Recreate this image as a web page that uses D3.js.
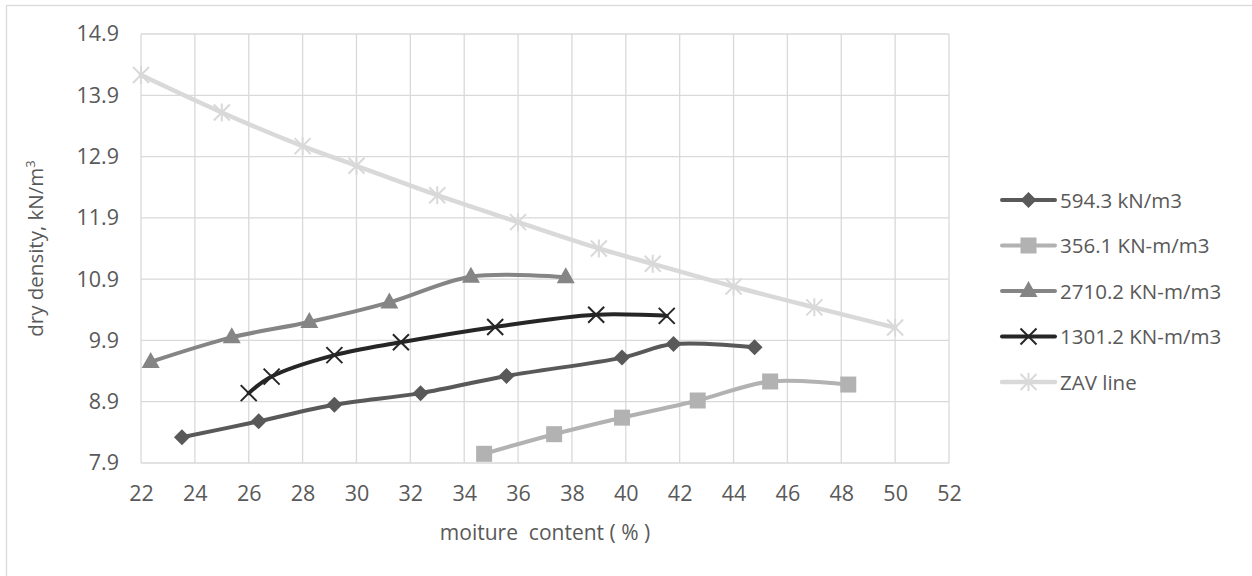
<!DOCTYPE html>
<html>
<head>
<meta charset="utf-8">
<script src="https://cdn.jsdelivr.net/npm/d3@7"></script>
<style>
  html, body { margin: 0; padding: 0; background: #fff; }
  svg { display: block; }
  text { font-family: "Open Sans", "Noto Sans", sans-serif; fill: #595959; }
</style>
</head>
<body>
<svg id="chart" width="1252" height="576"></svg>
<script>
// Moisture content (%) and dry density (kN/m3) for each compaction energy
const s594x  = [23.52, 26.37, 29.18, 32.38, 35.57, 39.86, 41.77, 44.78];
const s594y  = [8.32, 8.58, 8.85, 9.04, 9.32, 9.62, 9.84, 9.79];
const s356x  = [34.74, 37.34, 39.86, 42.67, 45.36, 48.26];
const s356y  = [8.05, 8.37, 8.64, 8.92, 9.23, 9.18];
const s2710x = [22.36, 25.37, 28.25, 31.22, 34.25, 37.77];
const s2710y = [9.55, 9.95, 10.20, 10.52, 10.94, 10.93];
const s1301x = [26.0, 26.85, 29.18, 31.65, 35.15, 38.9, 41.52];
const s1301y = [9.04, 9.31, 9.66, 9.87, 10.12, 10.32, 10.30];
const zavX   = [22, 25, 28, 30, 33, 36, 39, 41, 44, 47, 50];
const zavY   = [14.23, 13.62, 13.07, 12.75, 12.27, 11.83, 11.40, 11.15, 10.78, 10.44, 10.11];

const xTicks = [22, 24, 26, 28, 30, 32, 34, 36, 38, 40, 42, 44, 46, 48, 50, 52];
const yTicks = [7.9, 8.9, 9.9, 10.9, 11.9, 12.9, 13.9, 14.9];

const seriesNames = ["594.3 kN/m3", "356.1 KN-m/m3", "2710.2 KN-m/m3", "1301.2 KN-m/m3", "ZAV line"];

const series = [
  { name: seriesNames[0], xs: s594x,  ys: s594y,  color: "#595959", width: 4,   marker: "diamond" },
  { name: seriesNames[1], xs: s356x,  ys: s356y,  color: "#b2b2b2", width: 4,   marker: "square" },
  { name: seriesNames[2], xs: s2710x, ys: s2710y, color: "#858585", width: 4,   marker: "triangle" },
  { name: seriesNames[3], xs: s1301x, ys: s1301y, color: "#262626", width: 4,   marker: "cross" },
  { name: seriesNames[4], xs: zavX,   ys: zavY,   color: "#d9d9d9", width: 4.5, marker: "star" }
];

const svg = d3.select("#chart");

// outer chart frame
svg.append("rect")
  .attr("x", 6.5).attr("y", 5.5)
  .attr("width", 1300).attr("height", 700)
  .attr("fill", "none").attr("stroke", "#d9d9d9").attr("stroke-width", 1.3);

const plot = { left: 141, right: 949, top: 34, bottom: 463 };

const x = d3.scaleLinear().domain([22, 52]).range([plot.left, plot.right]);
const y = d3.scaleLinear().domain([7.9, 14.9]).range([plot.bottom, plot.top]);

// gridlines
const grid = svg.append("g");
grid.selectAll("line.v").data(xTicks).join("line")
  .attr("x1", d => x(d)).attr("x2", d => x(d))
  .attr("y1", plot.top).attr("y2", plot.bottom)
  .attr("stroke", "#d9d9d9").attr("stroke-width", 1.3);
grid.selectAll("line.h").data(yTicks).join("line")
  .attr("y1", d => y(d)).attr("y2", d => y(d))
  .attr("x1", plot.left).attr("x2", plot.right)
  .attr("stroke", "#d9d9d9").attr("stroke-width", 1.3);

// axes (labels only)
const xAxis = svg.append("g")
  .attr("transform", `translate(0,${plot.bottom})`)
  .call(d3.axisBottom(x).tickValues(xTicks).tickSize(0).tickPadding(23).tickFormat(d3.format("d")));
xAxis.select(".domain").remove();
xAxis.selectAll("text").style("font-size", "21.5px").attr("fill", "#595959");

const yAxis = svg.append("g")
  .attr("transform", `translate(${plot.left},0)`)
  .call(d3.axisLeft(y).tickValues(yTicks).tickSize(0).tickPadding(22).tickFormat(d3.format(".1f")));
yAxis.select(".domain").remove();
yAxis.selectAll("text").style("font-size", "21.5px").attr("fill", "#595959");

// axis titles
svg.append("text")
  .attr("x", 545).attr("y", 540)
  .attr("text-anchor", "middle")
  .style("font-size", "21px")
  .style("white-space", "pre")
  .attr("xml:space", "preserve")
  .text("moiture  content ( % )");

const yTitle = svg.append("text")
  .attr("transform", `translate(43,${(plot.top + plot.bottom) / 2}) rotate(-90)`)
  .attr("text-anchor", "middle")
  .style("font-size", "20.5px");
yTitle.append("tspan").text("dry density, kN/m");
yTitle.append("tspan").attr("dy", -8).style("font-size", "13px").text("3");

// marker shapes
function drawMarker(g, type, cx, cy, color) {
  if (type === "diamond") {
    g.append("path")
      .attr("d", `M${cx},${cy - 8}L${cx + 8},${cy}L${cx},${cy + 8}L${cx - 8},${cy}Z`)
      .attr("fill", color);
  } else if (type === "square") {
    g.append("rect").attr("x", cx - 8).attr("y", cy - 8).attr("width", 16).attr("height", 16)
      .attr("fill", color);
  } else if (type === "triangle") {
    g.append("path")
      .attr("d", `M${cx},${cy - 10}L${cx + 9},${cy + 6}L${cx - 9},${cy + 6}Z`)
      .attr("fill", color);
  } else if (type === "cross") {
    g.append("path")
      .attr("d", `M${cx - 8},${cy - 8}L${cx + 8},${cy + 8}M${cx - 8},${cy + 8}L${cx + 8},${cy - 8}`)
      .attr("stroke", color).attr("stroke-width", 2).attr("fill", "none");
  } else if (type === "star") {
    g.append("path")
      .attr("d", `M${cx - 8},${cy - 8}L${cx + 8},${cy + 8}M${cx - 8},${cy + 8}L${cx + 8},${cy - 8}M${cx},${cy - 9}L${cx},${cy + 9}`)
      .attr("stroke", color).attr("stroke-width", 2).attr("fill", "none");
  }
}

const line = d3.line().curve(d3.curveCatmullRom.alpha(0.5));

// draw series back to front: ZAV first
const order = [4, 2, 3, 0, 1];
order.forEach(i => {
  const s = series[i];
  const pts = s.xs.map((v, k) => [x(v), y(s.ys[k])]);
  const g = svg.append("g");
  g.append("path").attr("d", line(pts))
    .attr("fill", "none").attr("stroke", s.color).attr("stroke-width", s.width)
    .attr("stroke-linejoin", "round").attr("stroke-linecap", "round");
  pts.forEach(p => drawMarker(g, s.marker, p[0], p[1], s.color));
});

// legend
const legend = svg.append("g");
series.forEach((s, i) => {
  const ly = 200 + i * 45.5;
  const g = legend.append("g");
  g.append("line").attr("x1", 1002).attr("x2", 1055).attr("y1", ly).attr("y2", ly)
    .attr("stroke", s.color).attr("stroke-width", s.width).attr("stroke-linecap", "round");
  drawMarker(g, s.marker, 1028.5, ly, s.color);
  g.append("text").attr("x", 1060).attr("y", ly + 7.5)
    .style("font-size", "20.5px").text(s.name);
});
</script>
</body>
</html>
